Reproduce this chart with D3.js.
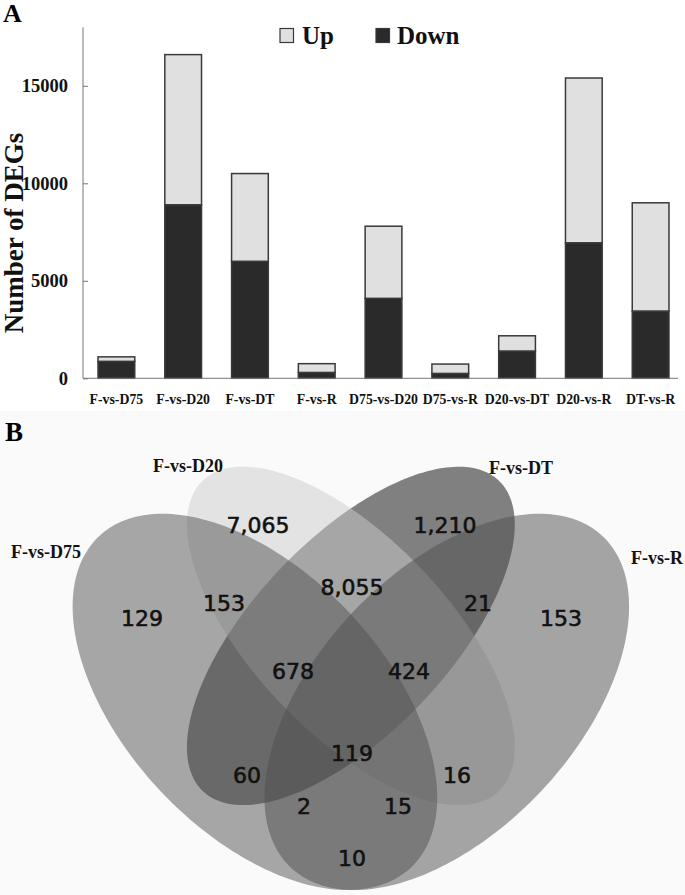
<!DOCTYPE html>
<html><head><meta charset="utf-8">
<script src="https://cdn.jsdelivr.net/npm/d3@7"></script>
<style>body{margin:0;background:#fff} svg{display:block}</style>
</head><body><svg id="c" width="685" height="895"></svg>
<script>
// ---- Panel A data ----
const categories = ["F-vs-D75","F-vs-D20","F-vs-DT","F-vs-R","D75-vs-D20","D75-vs-R","D20-vs-DT","D20-vs-R","DT-vs-R"];
const downValues = [870, 8900, 6000, 300, 4100, 250, 1400, 6950, 3450];
const upValues   = [230, 7700, 4500, 450, 3700, 480, 780, 8450, 5550];
const seriesNames = ["Up", "Down"];
const yTicks = [0, 5000, 10000, 15000];

// ---- Panel B data ----
const vennSets = ["F-vs-D75", "F-vs-D20", "F-vs-DT", "F-vs-R"];
const vennRegions = ["1","2","3","4","12","23","34","123","234","13","24","1234","134","124","14"];
const vennValues  = [129, 7065, 1210, 153, 153, 8055, 21, 678, 424, 60, 16, 119, 2, 15, 10];

// ---- layout ----
const svg = d3.select("#c");
const serif = "'Liberation Serif','Times New Roman',serif";

// Panel A
const x = d3.scaleBand().domain(categories).range([83, 684]).paddingInner(0.45).paddingOuter(0.225);
const y = d3.scaleLinear().domain([0, 18000]).range([378.3, 27.3]);
const stackData = categories.map((c, i) => ({cat: c, Down: downValues[i], Up: upValues[i]}));
const stack = d3.stack().keys(["Down", "Up"])(stackData);
const fillOf = {Up: "#e0e0e0", Down: "#2a2a2a"};

svg.append("text").attr("x", 3).attr("y", 22).attr("font-family", serif).attr("font-weight", "bold")
  .attr("font-size", 26).text("A");

// y axis
const yAxis = svg.append("g").attr("transform", "translate(83,0)")
  .call(d3.axisLeft(y).tickValues(yTicks).tickSize(-5).tickPadding(15).tickFormat(d3.format("d")));
yAxis.select(".domain").attr("stroke", "#777").attr("d", `M0,${y(0)}V${y(18000)}`);
yAxis.selectAll(".tick line").attr("stroke", "#777");
yAxis.selectAll(".tick text").attr("font-family", serif).attr("font-weight", "bold").attr("font-size", 18.5).attr("fill", "#111");

svg.append("text").attr("transform", "translate(22.5,233) rotate(-90)").attr("text-anchor", "middle")
  .attr("font-family", serif).attr("font-weight", "bold").attr("font-size", 27).attr("fill", "#111")
  .text("Number of DEGs");

// bars
svg.append("g").selectAll("g").data(stack).join("g").attr("fill", d => fillOf[d.key])
  .selectAll("rect").data(d => d).join("rect")
  .attr("x", d => x(d.data.cat)).attr("width", x.bandwidth())
  .attr("y", d => y(d[1])).attr("height", d => y(d[0]) - y(d[1]))
  .attr("stroke", "#3a3a3a").attr("stroke-width", 1.5);

// x axis
const xAxis = svg.append("g").attr("transform", `translate(0,${y(0)})`)
  .call(d3.axisBottom(x).tickSize(0).tickPadding(16));
xAxis.select(".domain").attr("stroke", "#777").attr("d", "M83,0H678");
xAxis.selectAll(".tick text").attr("font-family", serif).attr("font-weight", "bold").attr("font-size", 13.8).attr("fill", "#111");

// legend
const legendPos = [{bx: 280, tx: 302}, {bx: 376, tx: 397}];
const lg = svg.append("g").selectAll("g").data(seriesNames).join("g");
lg.append("rect").attr("x", (d, i) => legendPos[i].bx).attr("y", 28.5).attr("width", 13.5).attr("height", 14)
  .attr("fill", d => fillOf[d]).attr("stroke", "#3a3a3a").attr("stroke-width", 1.2);
lg.append("text").attr("x", (d, i) => legendPos[i].tx).attr("y", 43.5).attr("font-family", serif)
  .attr("font-weight", "bold").attr("font-size", 25).attr("fill", "#111").text(d => d);

// Panel B
svg.append("rect").attr("x", 0).attr("y", 411).attr("width", 685).attr("height", 484).attr("fill", "#fafafa");
svg.append("text").attr("x", 5).attr("y", 441).attr("font-family", serif).attr("font-weight", "bold")
  .attr("font-size", 27).text("B");

const u = d3.scaleLinear().domain([0, 1]).range([31.1, 670.6]);
const v = d3.scaleLinear().domain([0, 1]).range([1012.1, 352.1]);
// ellipse geometry (unit space): cx, cy, a, b, rotation deg
const ellipses = [
  {cx: 0.35, cy: 0.47, a: 0.35, b: 0.20, rot: 135, fill: "#515151"},
  {cx: 0.50, cy: 0.57, a: 0.33, b: 0.15, rot: 135, fill: "#cbcbcb"},
  {cx: 0.50, cy: 0.57, a: 0.33, b: 0.15, rot: 45,  fill: "#050505"},
  {cx: 0.65, cy: 0.47, a: 0.35, b: 0.20, rot: 45,  fill: "#4d4d4d"}
];
const drawOrder = [2, 1, 0, 3];
const line = d3.line().x(p => u(p[0])).y(p => v(p[1])).curve(d3.curveLinearClosed);
function ellPts(e) {
  const th = e.rot * Math.PI / 180, pts = [];
  for (let k = 0; k < 240; k++) {
    const t = k / 240 * 2 * Math.PI;
    const ex = e.a * Math.cos(t), ey = e.b * Math.sin(t);
    pts.push([e.cx + ex * Math.cos(th) - ey * Math.sin(th), e.cy + ex * Math.sin(th) + ey * Math.cos(th)]);
  }
  return pts;
}
svg.append("g").selectAll("path").data(drawOrder.map(i => ellipses[i])).join("path")
  .attr("d", e => line(ellPts(e))).attr("fill", e => e.fill).attr("fill-opacity", 0.5);

// set labels
const setLabelPos = [[11, 558], [153, 472], [489, 474], [631, 564]];
svg.append("g").selectAll("text").data(vennSets).join("text")
  .attr("x", (d, i) => setLabelPos[i][0]).attr("y", (d, i) => setLabelPos[i][1])
  .attr("font-family", serif).attr("font-weight", "bold").attr("font-size", 18).attr("fill", "#111").text(d => d);

// region counts
const regionPos = {
  "1": [142, 618], "2": [258, 525], "3": [445, 525], "4": [561, 618],
  "12": [224, 603], "23": [352, 587], "34": [478, 603], "123": [293, 671], "234": [409, 671],
  "13": [247, 775], "24": [457, 775], "1234": [352, 753], "134": [304, 806], "124": [398, 806], "14": [352, 858]
};
const fmt = d3.format(",");
svg.append("g").selectAll("text").data(vennRegions).join("text")
  .attr("x", (d) => regionPos[d][0]).attr("y", (d) => regionPos[d][1])
  .attr("text-anchor", "middle").attr("dominant-baseline", "central")
  .attr("font-family", "'DejaVu Sans',sans-serif").attr("font-size", 22).attr("fill", "#111")
  .attr("stroke", "#111").attr("stroke-width", 0.6)
  .text((d, i) => fmt(vennValues[i]));
</script></body></html>
